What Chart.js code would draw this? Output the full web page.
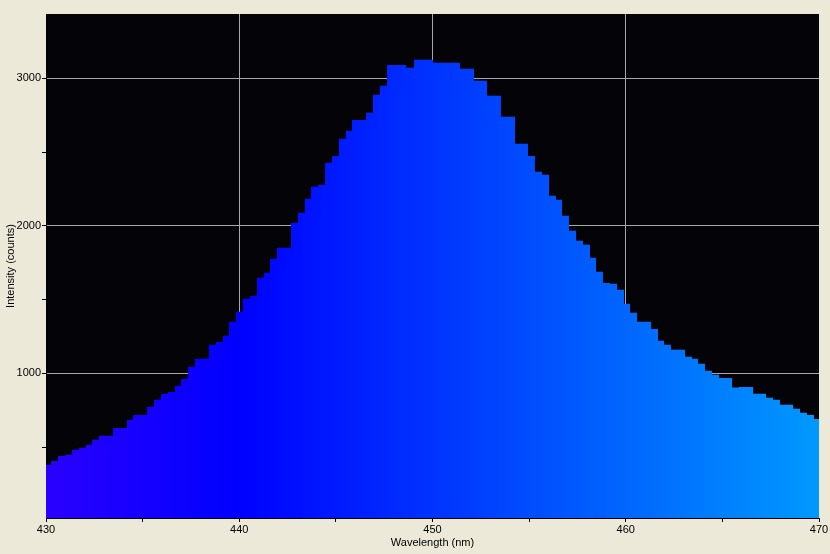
<!DOCTYPE html>
<html>
<head>
<meta charset="utf-8">
<script src="https://cdn.jsdelivr.net/npm/chart.js@4/dist/chart.umd.min.js"></script>
<style>
  html, body { margin: 0; padding: 0; background: #ECE9D8; }
  #spectrum-chart { display: block; }
</style>
</head>
<body>
<canvas id="spectrum-chart" width="830" height="554"></canvas>
<script>
Chart.defaults.font.family = "'Liberation Sans', Arial, sans-serif";
Chart.defaults.font.size = 11;
Chart.defaults.color = '#000';

// left edge of each step (nm)
const wavelengths = [
  429.70, 430.26, 430.62, 430.98, 431.35, 431.71, 432.07, 432.38, 432.74, 433.10,
  433.47, 433.83, 434.19, 434.50, 434.86, 435.23, 435.59, 435.95, 436.31, 436.68,
  436.99, 437.35, 437.71, 438.07, 438.43, 438.80, 439.16, 439.47, 439.83, 440.19,
  440.56, 440.92, 441.28, 441.59, 441.95, 442.31, 442.68, 443.04, 443.40, 443.71,
  444.08, 444.44, 444.80, 445.16, 445.52, 445.83, 446.20, 446.56, 446.92, 447.28,
  447.65, 448.01, 448.32, 448.63, 449.04, 449.35, 449.72, 450.03, 450.39, 450.75,
  451.06, 451.42, 451.79, 452.15, 452.51, 452.82, 453.18, 453.54, 453.91, 454.27,
  454.58, 454.94, 455.30, 455.67, 456.03, 456.39, 456.70, 457.06, 457.43, 457.79,
  458.15, 458.46, 458.82, 459.18, 459.55, 459.91, 460.22, 460.58, 460.94, 461.31,
  461.67, 461.98, 462.34, 462.70, 463.07, 463.43, 463.74, 464.10, 464.46, 464.83,
  465.19, 465.50, 465.86, 466.22, 466.59, 466.95, 467.26, 467.62, 467.98, 468.34,
  468.66, 469.02, 469.38, 469.74
];
const endWavelength = 470.10;

const intensities = [
  379, 406, 440, 447, 481, 495, 515, 549, 576, 576,
  630, 630, 684, 718, 718, 773, 820, 861, 874, 915,
  962, 1044, 1098, 1098, 1193, 1213, 1254, 1349, 1417, 1505,
  1525, 1647, 1681, 1776, 1851, 1851, 2020, 2088, 2183, 2264,
  2278, 2427, 2474, 2590, 2644, 2718, 2718, 2766, 2888, 2949,
  3091, 3091, 3091, 3071, 3125, 3125, 3125, 3105, 3105, 3105,
  3105, 3064, 3064, 2983, 2983, 2881, 2881, 2739, 2739, 2556,
  2556, 2474, 2366, 2346, 2203, 2176, 2068, 1966, 1898, 1871,
  1783, 1688, 1613, 1607, 1566, 1471, 1410, 1349, 1349, 1301,
  1220, 1193, 1159, 1159, 1112, 1098, 1064, 1017, 990, 969,
  969, 904, 907, 907, 861, 861, 834, 820, 786, 786,
  759, 732, 718, 691
];

const xRange = [430, 470];
const yRange = [19, 3436];
const xTicks = [430, 435, 440, 445, 450, 455, 460, 465, 470];
const xLabels = [430, 440, 450, 460, 470];
const yTicks = [500, 1000, 1500, 2000, 2500, 3000];
const yLabels = [1000, 2000, 3000];

const points = wavelengths.map((w, i) => ({ x: w, y: intensities[i] }));
points.push({ x: endWavelength, y: intensities[intensities.length - 1] });

// colour of the light across the band
const spectrumFill = (context) => {
  const chart = context.chart;
  if (!chart.chartArea) return 'rgb(0,0,255)';
  const xs = chart.scales.x;
  const x0 = xs.getPixelForValue(430);
  const x1 = xs.getPixelForValue(470);
  const g = chart.ctx.createLinearGradient(x0, 0, x1, 0);
  g.addColorStop(0, 'rgb(42,0,255)');
  g.addColorStop(0.25, 'rgb(0,0,255)');
  g.addColorStop(1, 'rgb(0,153,255)');
  return g;
};

const plotBackground = {
  id: 'plotBackground',
  beforeDraw(chart) {
    const { ctx, chartArea: a } = chart;
    ctx.save();
    ctx.fillStyle = '#040308';
    ctx.fillRect(a.left, a.top, a.right - a.left, a.bottom - a.top);
    ctx.restore();
  }
};

const gridColor = (labels, range) => (ctx) => {
  const v = ctx.tick && ctx.tick.value;
  if (labels.includes(v) && v !== range[0] && v !== range[1]) return '#a8a8a8';
  return 'rgba(0,0,0,0)';
};

const ctx = document.getElementById('spectrum-chart').getContext('2d');
const spectrumChart = new Chart(ctx, {
  type: 'line',
  data: {
    datasets: [{
      label: 'Intensity',
      data: points,
      stepped: true,
      fill: 'start',
      backgroundColor: spectrumFill,
      borderColor: 'rgba(0,0,0,0)',
      borderWidth: 0,
      pointRadius: 0,
      tension: 0
    }]
  },
  options: {
    responsive: false,
    animation: false,
    devicePixelRatio: 1,
    layout: { padding: { top: 14, right: 11, left: 0, bottom: 0 } },
    plugins: { legend: { display: false }, tooltip: { enabled: false } },
    scales: {
      x: {
        type: 'linear',
        min: xRange[0],
        max: xRange[1],
        afterBuildTicks: (scale) => { scale.ticks = xTicks.map(v => ({ value: v })); },
        afterFit: (scale) => { scale.height = 36; },
        ticks: {
          autoSkip: false,
          maxRotation: 0,
          padding: 1,
          callback: (v) => xLabels.includes(v) ? String(v) : ''
        },
        grid: {
          color: gridColor(xLabels, xRange),
          tickColor: '#000',
          tickLength: 4,
          lineWidth: 1
        },
        border: { color: '#000', width: 1 },
        title: {
          display: true,
          text: 'Wavelength (nm)',
          padding: { top: 0, bottom: 4 }
        }
      },
      y: {
        type: 'linear',
        min: yRange[0],
        max: yRange[1],
        afterBuildTicks: (scale) => { scale.ticks = yTicks.map(v => ({ value: v })); },
        afterFit: (scale) => { scale.width = 46; },
        ticks: {
          autoSkip: false,
          padding: 1,
          callback: (v) => yLabels.includes(v) ? String(v) : ''
        },
        grid: {
          color: gridColor(yLabels, yRange),
          tickColor: '#000',
          tickLength: 4,
          lineWidth: 1
        },
        border: { color: '#000', width: 1 },
        title: {
          display: true,
          text: 'Intensity (counts)',
          padding: { top: 4, bottom: 0 }
        }
      }
    }
  },
  plugins: [plotBackground]
});
</script>
</body>
</html>
